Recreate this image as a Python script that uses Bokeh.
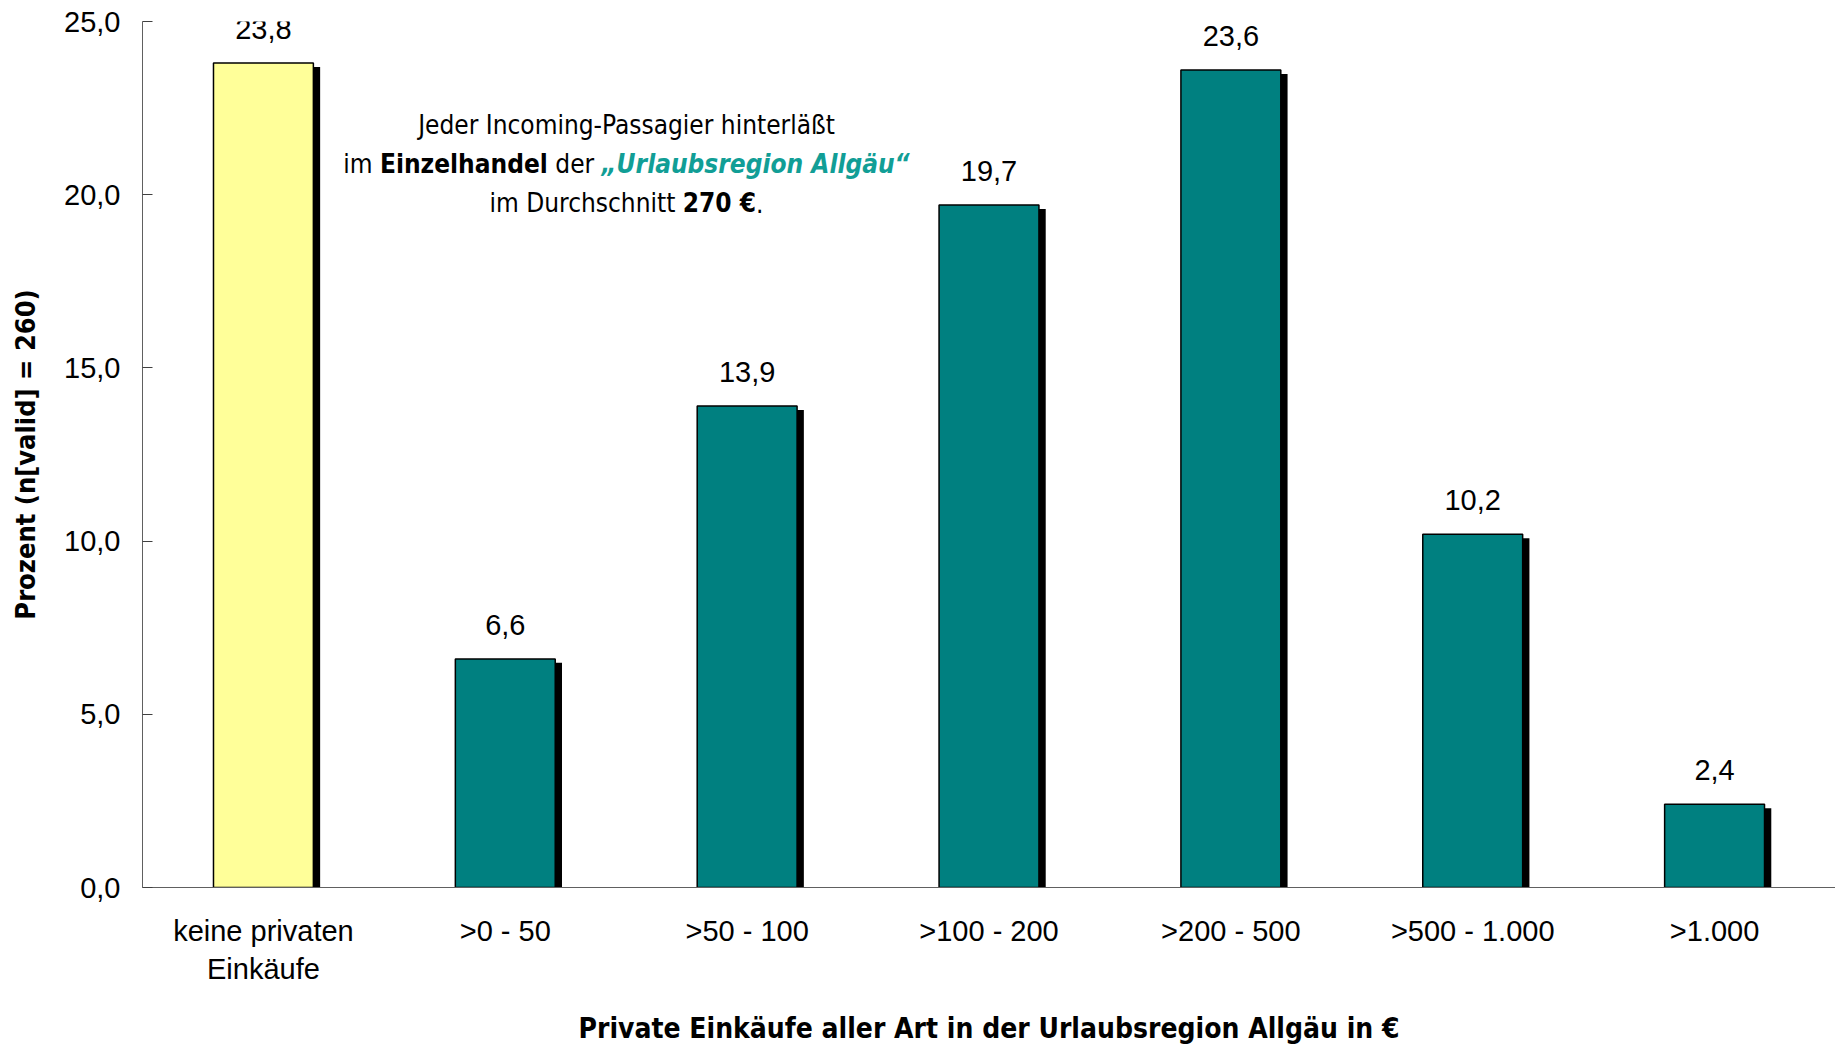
import subprocess
from bokeh.plotting import figure
from bokeh.models import ColumnDataSource, FixedTicker, Range1d, Label
from bokeh.transform import dodge
from bokeh.core.properties import value
from bokeh.embed import file_html
from bokeh.resources import INLINE

categories = ["keine privaten\nEinkäufe", ">0 - 50", ">50 - 100", ">100 - 200",
              ">200 - 500", ">500 - 1.000", ">1.000"]
values = [23.8, 6.6, 13.9, 19.7, 23.6, 10.2, 2.4]
bar_colors = ["#FFFF99", "#008080", "#008080", "#008080", "#008080", "#008080", "#008080"]
value_labels = ["23,8", "6,6", "13,9", "19,7", "23,6", "10,2", "2,4"]
y_ticks = [0, 5, 10, 15, 20, 25]
y_tick_labels = ["0,0", "5,0", "10,0", "15,0", "20,0", "25,0"]

ARIAL = "Liberation Sans"
NARROW = "DejaVu Sans Condensed"
ANN_SIZE = 26

src = ColumnDataSource(dict(cat=categories, val=values, color=bar_colors, lab=value_labels))

p = figure(x_range=categories, y_range=Range1d(0, 25), width=1835, height=1050,
           output_backend="svg", toolbar_location=None,
           min_border_left=142, min_border_right=0, min_border_top=21, min_border_bottom=163)

# shadow bars
p.vbar(x=dodge("cat", 0.028, range=p.x_range), top=dodge("val", -0.115), bottom=0,
       width=0.413, source=src, fill_color="black", line_color=None)
# main bars
p.vbar(x="cat", top="val", width=0.413, source=src, fill_color="color",
       line_color="black", line_width=1.5)
# value labels
p.text(x="cat", y="val", text="lab", source=src, text_align="center",
       text_baseline="alphabetic", y_offset=-34, text_font=value(ARIAL),
       text_font_size="29px", text_color="black")

p.grid.visible = False
p.outline_line_color = None
p.background_fill_color = "white"

# y axis
p.yaxis.ticker = FixedTicker(ticks=y_ticks)
p.yaxis.major_label_overrides = {t: l for t, l in zip(y_ticks, y_tick_labels)}
p.yaxis.major_tick_in = 10
p.yaxis.major_tick_out = 0
p.yaxis.minor_tick_line_color = None
p.yaxis.axis_line_color = "#606060"
p.yaxis.major_tick_line_color = "#404040"
p.yaxis.major_label_text_font = ARIAL
p.yaxis.major_label_text_font_size = "29px"
p.yaxis.major_label_text_color = "black"
p.yaxis.major_label_standoff = 22
p.yaxis.axis_label = "Prozent (n[valid] = 260)"
p.yaxis.axis_label_text_font = NARROW
p.yaxis.axis_label_text_font_style = "bold"
p.yaxis.axis_label_text_font_size = "27px"
p.yaxis.axis_label_text_color = "black"
p.yaxis.axis_label_standoff = 20

# x axis
p.xaxis.major_tick_line_color = None
p.xaxis.minor_tick_line_color = None
p.xaxis.axis_line_color = "#606060"
p.xaxis.major_label_text_font = ARIAL
p.xaxis.major_label_text_font_size = "29px"
p.xaxis.major_label_text_color = "black"
p.xaxis.major_label_standoff = 21
p.xaxis.axis_label = "Private Einkäufe aller Art in der Urlaubsregion Allgäu in €"
p.xaxis.axis_label_text_font = NARROW
p.xaxis.axis_label_text_font_style = "bold"
p.xaxis.axis_label_text_font_size = "28px"
p.xaxis.axis_label_text_color = "black"
p.xaxis.axis_label_standoff = 24


# ---- annotation text with mixed styles: measure segment widths ----
def _font_file(pattern):
    try:
        return subprocess.run(["fc-match", "-f", "%{file}", pattern],
                              capture_output=True, text=True, timeout=10).stdout.strip()
    except Exception:
        return None

def text_width(txt, style, size):
    if not txt:
        return 0.0
    pattern = {"normal": "DejaVu Sans Condensed",
               "bold": "DejaVu Sans Condensed:bold",
               "bold italic": "DejaVu Sans Condensed:bold:oblique"}[style]
    try:
        from PIL import ImageFont
        f = ImageFont.truetype(_font_file(pattern), size)
        return f.getlength(txt)
    except Exception:
        factor = 0.50 if style == "normal" else 0.56
        return len(txt) * size * factor

FL = 142          # frame left in canvas pixels
CENTER = 626      # horizontal centre of annotation block (canvas px)
PX_PER_UNIT = 866 / 25.0
FRAME_BOTTOM = 887

def add_line(segments, baseline_px):
    widths = [text_width(t, s, ANN_SIZE) for t, s, c in segments]
    x = CENTER - sum(widths) / 2.0
    ydata = (FRAME_BOTTOM - baseline_px) / PX_PER_UNIT
    for (t, s, c), w in zip(segments, widths):
        lead = len(t) - len(t.lstrip(" "))
        xdraw = x + text_width(t[:lead], s, ANN_SIZE)
        p.add_layout(Label(x=xdraw - FL, y=ydata, x_units="screen", y_units="data",
                           text=t.strip(" "), text_font=NARROW, text_font_size=f"{ANN_SIZE}px",
                           text_font_style=s, text_color=c,
                           text_align="left", text_baseline="alphabetic"))
        x += w

TEAL = "#119E96"
add_line([("Jeder Incoming-Passagier hinterläßt", "normal", "black")], 124.5)
add_line([("im ", "normal", "black"), ("Einzelhandel", "bold", "black"),
          (" der ", "normal", "black"), ("„Urlaubsregion Allgäu“", "bold italic", TEAL)], 163.5)
add_line([("im Durchschnitt ", "normal", "black"), ("270 €", "bold", "black"),
          (".", "normal", "black")], 202.5)

open("out.html", "w").write(file_html(p, INLINE))
